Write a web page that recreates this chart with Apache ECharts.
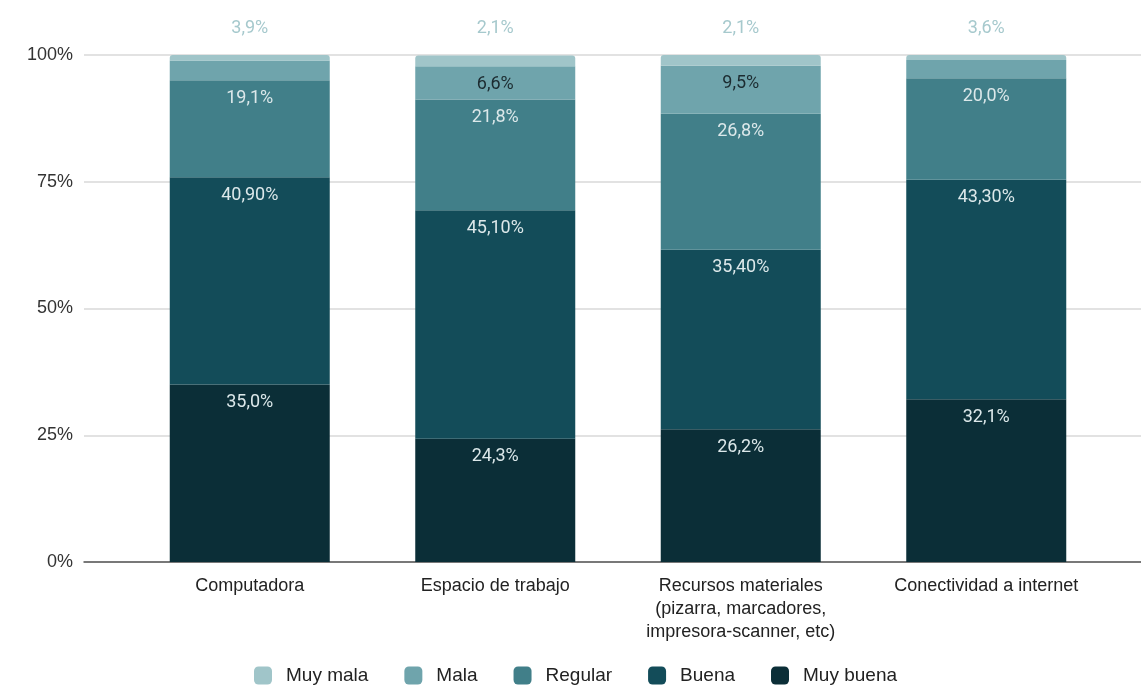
<!DOCTYPE html>
<html>
<head>
<meta charset="utf-8">
<script src="https://cdn.jsdelivr.net/npm/echarts@6/dist/echarts.min.js"></script>
<style>
  html, body { margin: 0; padding: 0; background: #fff; }
  #chart { width: 1141px; height: 694px; }
</style>
</head>
<body>
<div id="chart"></div>
<script>
const categories = [
  'Computadora',
  'Espacio de trabajo',
  'Recursos materiales\n(pizarra, marcadores,\nimpresora-scanner, etc)',
  'Conectividad a internet'
]
const muyBuena = [35.0, 24.3, 26.2, 32.1]
const buena = [40.9, 45.1, 35.4, 43.3]
const regular = [19.1, 21.8, 26.8, 20.0]
const mala = [3.9, 6.6, 9.5, 3.6]
const muyMala = [1.1, 2.1, 2.1, 1.0]
const topLabels = ['3,9%', '2,1%', '2,1%', '3,6%']
const yTicks = [0, 25, 50, 75, 100]

const colors = {
  muyMala: '#a0c5c9',
  mala: '#6fa4ac',
  regular: '#417f89',
  buena: '#134c59',
  muyBuena: '#0b2e37'
}

const fmt = (v, d) => v.toFixed(d).replace('.', ',') + '%'

const chart = echarts.init(document.getElementById('chart'))

const insideLabel = (decimals, color, minVal) => ({
  show: true,
  position: 'insideTop',
  distance: 9,
  color: color,
  fontFamily: 'Roboto',
  fontSize: 18,
  formatter: p => (p.value >= minVal ? fmt(p.value, decimals) : '')
})

const option = {
  animation: false,
  grid: [
    { left: 127, right: 32, top: 55, bottom: 132 },
    { left: 84, right: 0, top: 55, bottom: 132 }
  ],
  legend: {
    bottom: 4,
    left: 249,
    itemWidth: 18,
    itemHeight: 18,
    itemGap: 36,
    icon: 'roundRect',
    textStyle: { fontFamily: 'Liberation Sans', fontSize: 19, color: '#222', padding: [0, 0, 0, 9] },
    data: ['Muy mala', 'Mala', 'Regular', 'Buena', 'Muy buena']
  },
  xAxis: [
    {
      type: 'category',
      gridIndex: 0,
      data: categories,
      axisLine: { show: false },
      axisTick: { show: false },
      axisLabel: {
        fontFamily: 'Liberation Sans',
        fontSize: 18,
        color: '#222',
        lineHeight: 23,
        margin: 13,
        interval: 0
      }
    },
    {
      type: 'category',
      gridIndex: 1,
      data: [''],
      axisLine: { show: true, lineStyle: { color: '#555', width: 1.5 } },
      axisTick: { show: false },
      axisLabel: { show: false }
    }
  ],
  yAxis: [
    {
      type: 'value',
      gridIndex: 0,
      min: 0,
      max: 100,
      interval: 25,
      splitLine: { show: false },
      axisLabel: { show: false }
    },
    {
      type: 'value',
      gridIndex: 1,
      min: yTicks[0],
      max: yTicks[yTicks.length - 1],
      interval: 25,
      splitLine: { show: true, lineStyle: { color: '#d9d9d9', width: 1.5 } },
      axisLabel: {
        formatter: '{value}%',
        fontFamily: 'Liberation Sans',
        fontSize: 18,
        color: '#333',
        margin: 11
      }
    }
  ],
  series: [
    {
      name: 'Muy buena',
      type: 'bar',
      stack: 'total',
      barWidth: 160,
      data: muyBuena,
      itemStyle: { color: colors.muyBuena },
      label: insideLabel(1, '#dce8ea', 0)
    },
    {
      name: 'Buena',
      type: 'bar',
      stack: 'total',
      data: buena,
      itemStyle: { color: colors.buena },
      label: insideLabel(2, '#dce8ea', 0)
    },
    {
      name: 'Regular',
      type: 'bar',
      stack: 'total',
      data: regular,
      itemStyle: { color: colors.regular },
      label: insideLabel(1, '#dce8ea', 0)
    },
    {
      name: 'Mala',
      type: 'bar',
      stack: 'total',
      data: mala,
      itemStyle: { color: colors.mala },
      label: insideLabel(1, '#1c2b30', 5)
    },
    {
      name: 'Muy mala',
      type: 'bar',
      stack: 'total',
      data: muyMala,
      itemStyle: { color: colors.muyMala, borderRadius: [3, 3, 0, 0] },
      label: {
        show: true,
        position: 'top',
        distance: 18,
        color: '#a6c9cd',
        fontFamily: 'Roboto',
        fontSize: 18,
        formatter: p => topLabels[p.dataIndex]
      }
    }
  ]
}

chart.setOption(option)
window.addEventListener('resize', () => chart.resize())
</script>
</body>
</html>
